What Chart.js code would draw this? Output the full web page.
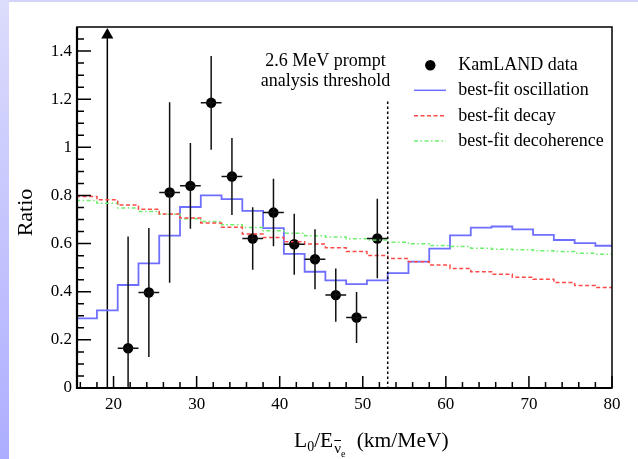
<!DOCTYPE html>
<html><head><meta charset="utf-8">
<script src="https://cdn.jsdelivr.net/npm/chart.js@4.4.0/dist/chart.umd.min.js"></script>
<style>
html,body{margin:0;padding:0;background:#fff;width:638px;height:459px;overflow:hidden;}
#topband{position:absolute;left:0;top:0;width:638px;height:2px;background:#d4d4fa;}
#leftband{position:absolute;left:0;top:0;width:9px;height:459px;background:linear-gradient(#dcdcfc,#adadff);}
#wrap{position:absolute;left:0;top:0;width:638px;height:459px;}
</style></head>
<body><div id="topband"></div><div id="leftband"></div>
<div id="wrap"><canvas id="c" width="638" height="459"></canvas></div>
<script>
// ---- data ----
const binEdges = [15.5,18,20.5,23,25.5,28,30.5,33,35.5,38,40.5,43,45.5,48,50.5,53,55.5,58,60.5,63,65.5,68,70.5,73,75.5,78,80.5];
const oscillation = [0.289,0.3225,0.428,0.518,0.633,0.752,0.800,0.785,0.736,0.664,0.557,0.483,0.447,0.432,0.447,0.477,0.525,0.579,0.634,0.666,0.671,0.659,0.636,0.615,0.602,0.591];
const decay = [0.796,0.782,0.760,0.743,0.723,0.706,0.686,0.668,0.640,0.625,0.608,0.598,0.583,0.567,0.551,0.538,0.525,0.511,0.497,0.483,0.473,0.460,0.452,0.438,0.426,0.418];
const decoherence = [0.779,0.768,0.748,0.733,0.722,0.703,0.692,0.678,0.667,0.653,0.643,0.633,0.627,0.620,0.615,0.606,0.599,0.592,0.588,0.581,0.577,0.574,0.570,0.567,0.560,0.556];
const dataX = [21.75,24.25,26.75,29.25,31.75,34.25,36.75,39.25,41.75,44.25,46.75,49.25,51.75];
const dataY = [0.165,0.397,0.8125,0.840,1.185,0.879,0.621,0.729,0.5975,0.535,0.386,0.293,0.621];
const dataYErr = [0.465,0.268,0.375,0.178,0.195,0.160,0.130,0.140,0.127,0.125,0.111,0.106,0.165];
const dataXErr = [1.25,1.25,1.25,1.25,1.25,1.25,1.25,1.25,1.25,1.25,1.25,1.25,1.25];
const arrowX = 19.25;
const arrowTip = 1.467;
const thresholdX = 53.0;
const thresholdTop = 1.19;
const xTicks = [20,30,40,50,60,70,80];
const xTickLabels = ['20','30','40','50','60','70','80'];
const yTicks = [0,0.2,0.4,0.6,0.8,1.0,1.2,1.4];
const yTickLabels = ['0','0.2','0.4','0.6','0.8','1','1.2','1.4'];
const legendLabels = ['KamLAND data','best-fit oscillation','best-fit decay','best-fit decoherence'];
const noteLines = ['2.6 MeV prompt','analysis threshold'];

const FONT = '"Liberation Serif", "Times New Roman", serif';
const BLUE = '#6f6fff', RED = '#ff4a4a', GREEN = '#6ef06e';

function stepPoints(vals){
  return binEdges.map((e,i)=>({x:e, y: vals[Math.min(i, vals.length-1)]}));
}

const decor = {
  id:'decor',
  afterDatasetsDraw(chart){
    const {ctx, chartArea:a, scales:{x,y}} = chart;
    ctx.save();
    ctx.beginPath(); ctx.rect(a.left,a.top,a.right-a.left,a.bottom-a.top); ctx.clip();
    ctx.strokeStyle='#111'; ctx.lineWidth=1.5;
    for(let i=0;i<dataX.length;i++){
      const px=x.getPixelForValue(dataX[i]), py=y.getPixelForValue(dataY[i]);
      ctx.beginPath();
      ctx.moveTo(px, y.getPixelForValue(dataY[i]-dataYErr[i]));
      ctx.lineTo(px, y.getPixelForValue(dataY[i]+dataYErr[i]));
      ctx.moveTo(x.getPixelForValue(dataX[i]-dataXErr[i]), py);
      ctx.lineTo(x.getPixelForValue(dataX[i]+dataXErr[i]), py);
      ctx.stroke();
    }
    // threshold line
    ctx.setLineDash([2.5,2.5]); ctx.strokeStyle='#000'; ctx.lineWidth=1.5;
    const tx = x.getPixelForValue(thresholdX);
    ctx.beginPath(); ctx.moveTo(tx, y.getPixelForValue(thresholdTop)); ctx.lineTo(tx, a.bottom); ctx.stroke();
    ctx.restore();
  },
  afterDraw(chart){
    const {ctx, chartArea:a, scales:{x,y}} = chart;
    ctx.save();
    ctx.strokeStyle='#000'; ctx.fillStyle='#000';
    // ticks (inward)
    ctx.lineWidth=1.5;
    ctx.beginPath();
    for(let v=16; v<=80; v+=2){
      const px=x.getPixelForValue(v);
      const major = xTicks.includes(v);
      ctx.moveTo(px,a.bottom); ctx.lineTo(px,a.bottom-(major?12:6));
    }
    for(let k=0;k<=29;k++){
      const v=k*0.05;
      const py=y.getPixelForValue(v);
      const major = (k%4===0);
      ctx.moveTo(a.left,py); ctx.lineTo(a.left+(major?14:7),py);
    }
    ctx.stroke();
    // frame
    ctx.lineWidth=1.5;
    ctx.strokeRect(a.left,a.top,a.right-a.left,a.bottom-a.top);
    ctx.lineWidth=2.2;
    ctx.beginPath(); ctx.moveTo(a.left,a.top); ctx.lineTo(a.left,a.bottom); ctx.lineTo(a.right,a.bottom); ctx.stroke();

    // y title
    ctx.save();
    ctx.font='22px '+FONT; ctx.textAlign='center'; ctx.textBaseline='alphabetic';
    ctx.translate(31.5,212.5); ctx.rotate(-Math.PI/2); ctx.fillText('Ratio',0,0);
    ctx.restore();

    // x title: L_0/E_{nubar_e} (km/MeV)
    ctx.textAlign='left'; ctx.textBaseline='alphabetic';
    let cx=294; const base=447;
    ctx.font='21.5px '+FONT; ctx.fillText('L',cx,base); cx+=ctx.measureText('L').width;
    ctx.font='14px '+FONT; ctx.fillText('0',cx,base+4); cx+=ctx.measureText('0').width;
    ctx.font='21.5px '+FONT; ctx.fillText('/E',cx,base); cx+=ctx.measureText('/E').width+1;
    ctx.font='15px '+FONT; ctx.fillText('\u03BD',cx,base+6);
    const nw=ctx.measureText('\u03BD').width;
    ctx.lineWidth=1; ctx.beginPath(); ctx.moveTo(cx,base-6.5); ctx.lineTo(cx+nw,base-6.5); ctx.stroke();
    cx+=nw;
    ctx.font='10px '+FONT; ctx.fillText('e',cx,base+10);
    ctx.font='21.5px '+FONT; ctx.fillText('(km/MeV)',356.7,base);

    // annotation
    ctx.font='18px '+FONT; ctx.textAlign='center';
    ctx.fillText(noteLines[0],325.5,65.5);
    ctx.fillText(noteLines[1],325.5,85.5);

    // legend
    ctx.textAlign='left'; ctx.textBaseline='middle'; ctx.font='18px '+FONT;
    const rows=[65.3,90.3,115.8,141];
    ctx.beginPath(); ctx.arc(430.3,rows[0],5.2,0,Math.PI*2); ctx.fill();
    ctx.lineWidth=1.5;
    ctx.strokeStyle=BLUE; ctx.setLineDash([]);
    ctx.beginPath(); ctx.moveTo(414,rows[1]); ctx.lineTo(446,rows[1]); ctx.stroke();
    ctx.strokeStyle=RED; ctx.setLineDash([4,2.5]);
    ctx.beginPath(); ctx.moveTo(414,rows[2]); ctx.lineTo(446,rows[2]); ctx.stroke();
    ctx.strokeStyle=GREEN; ctx.setLineDash([4,2.5,1.5,2.5]);
    ctx.beginPath(); ctx.moveTo(414,rows[3]); ctx.lineTo(446,rows[3]); ctx.stroke();
    ctx.setLineDash([]);
    ctx.fillStyle='#000';
    legendLabels.forEach((t,i)=>ctx.fillText(t,458.3,rows[i]));
    ctx.restore();
  }
};

new Chart(document.getElementById('c'), {
  type:'scatter',
  data:{datasets:[
    {data:stepPoints(decay), showLine:true, stepped:true, borderColor:RED, borderWidth:1.5, borderDash:[4,2.5], pointRadius:0},
    {data:stepPoints(decoherence), showLine:true, stepped:true, borderColor:GREEN, borderWidth:1.5, borderDash:[4,2.5,1.5,2.5], pointRadius:0},
    {data:stepPoints(oscillation), showLine:true, stepped:true, borderColor:BLUE, borderWidth:1.8, pointRadius:0},
    {data:[{x:arrowX,y:0},{x:arrowX,y:arrowTip}], showLine:true, borderColor:'#000', borderWidth:1.5,
     pointRadius:[0,7], pointStyle:'triangle', pointBackgroundColor:'#000', pointBorderWidth:0, clip:false},
    {data:dataX.map((v,i)=>({x:v,y:dataY[i]})), pointRadius:5.2, pointBackgroundColor:'#000', pointBorderWidth:0, borderColor:'#000'}
  ]},
  options:{
    responsive:false, animation:false, events:[],
    devicePixelRatio:1,
    layout:{padding:{top:27,right:26,left:0,bottom:0}},
    plugins:{legend:{display:false}, tooltip:{enabled:false}},
    scales:{
      x:{type:'linear', min:15.6, max:80,
        afterBuildTicks:s=>{s.ticks=xTicks.map(v=>({value:v}));},
        afterFit:s=>{s.height=71;},
        ticks:{callback:(v,i)=>xTickLabels[i], font:{family:FONT,size:17}, color:'#000', padding:6, maxRotation:0, autoSkip:false},
        grid:{display:false, drawTicks:false}, border:{display:false}},
      y:{type:'linear', min:0, max:1.5,
        afterBuildTicks:s=>{s.ticks=yTicks.map(v=>({value:v}));},
        afterFit:s=>{s.width=77;},
        ticks:{callback:(v,i)=>yTickLabels[i], font:{family:FONT,size:17}, color:'#000', padding:5, autoSkip:false},
        grid:{display:false, drawTicks:false}, border:{display:false}}
    }
  },
  plugins:[decor]
});
</script></body></html>
